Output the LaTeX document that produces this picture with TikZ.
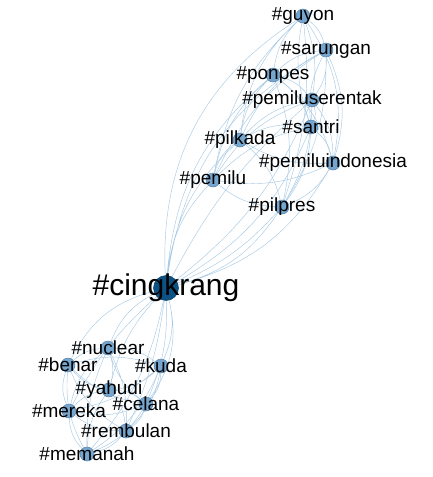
\documentclass[tikz,border=0pt]{standalone}
\usepackage{fontspec}
\setmainfont{Liberation Sans}
\usetikzlibrary{backgrounds}
\definecolor{tagfill}{RGB}{118,166,206}
\definecolor{tagline}{RGB}{84,128,168}
\definecolor{hubfill}{RGB}{12,82,132}
\definecolor{edgeblue}{RGB}{168,202,228}
\tikzset{
  tag/.style={circle,draw=tagline,fill=tagfill,minimum size=14pt,inner sep=0pt,line width=.5pt},
  hubtag/.style={circle,draw=hubfill!75!black,fill=hubfill,minimum size=25pt,inner sep=0pt,line width=.5pt},
  lb/.style={font=\fontsize{19}{19}\selectfont,inner sep=0pt},
  lbh/.style={font=\fontsize{30}{30}\selectfont,inner sep=0pt},
  lnk/.style={draw=edgeblue,line width=.45pt},
  % upper group: the election tags, lower group: the loose ones
}

\begin{document}
\begin{tikzpicture}[x=1pt,y=-1pt]
\useasboundingbox (0,0) rectangle (433,477);
\node[hubtag] (ck) at (166,288) {};
% upper group
\node[tag] (gu) at (303,16) {};
\node[tag] (sa) at (326,50) {};
\node[tag] (po) at (273,75) {};
\node[tag] (ps) at (312,100) {};
\node[tag] (st) at (311,127) {};
\node[tag] (pk) at (240,140) {};
\node[tag] (pi) at (333,163) {};
\node[tag] (pm) at (213,180) {};
\node[tag] (pp) at (282,207) {};
% lower group
\node[tag] (nu) at (108,348) {};
\node[tag] (be) at (68,365) {};
\node[tag] (ku) at (161,366) {};
\node[tag] (ya) at (109,390) {};
\node[tag] (ce) at (146,404) {};
\node[tag] (me) at (69,411) {};
\node[tag] (re) at (126,431) {};
\node[tag] (mn) at (87,454) {};

\begin{scope}[on background layer]
  \draw[lnk] (ck) to[bend left=30] (gu) (ck) to[bend left=26] (sa) (ck) to[bend left=22] (po)
    (ck) to[bend right=14] (ps) (ck) to[bend right=18] (st) (ck) to[bend left=20] (pk)
    (ck) to[bend right=22] (pi) (ck) to[bend left=18] (pm) (ck) to[bend right=20] (pp)
    (ck) to[bend right=12] (pp) (ck) to[bend left=10] (ps);
  \draw[lnk] (gu) to[bend left=18] (sa) (gu) to[bend right=18] (po) (gu) to[bend left=14] (ps)
    (gu) to[bend right=14] (st) (gu) to[bend right=20] (pk) (gu) to[bend left=22] (pi)
    (gu) to[bend right=18] (pm) (gu) to[bend left=12] (pp);
  \draw[lnk] (sa) to[bend right=18] (po) (sa) to[bend left=18] (ps) (sa) to[bend right=16] (st)
    (sa) to[bend right=18] (pk) (sa) to[bend left=20] (pi) (sa) to[bend right=16] (pm)
    (sa) to[bend left=16] (pp);
  \draw[lnk] (po) to[bend left=18] (ps) (po) to[bend left=18] (st) (po) to[bend right=18] (pk)
    (po) to[bend left=18] (pi) (po) to[bend right=18] (pm) (po) to[bend left=16] (pp);
  \draw[lnk] (ps) to[bend left=20] (st) (ps) to[bend right=18] (pk) (ps) to[bend left=18] (pi)
    (ps) to[bend right=18] (pm) (ps) to[bend left=14] (pp);
  \draw[lnk] (st) to[bend right=18] (pk) (st) to[bend left=18] (pi) (st) to[bend right=16] (pm)
    (st) to[bend left=16] (pp) (pk) to[bend right=16] (pi) (pk) to[bend right=20] (pm)
    (pk) to[bend left=18] (pp) (pi) to[bend left=16] (pm) (pi) to[bend left=18] (pp)
    (pm) to[bend right=18] (pp);
  \draw[lnk] (ck) to[bend right=20] (nu) (ck) to[bend right=24] (be) (ck) to[bend left=18] (ku)
    (ck) to[bend right=14] (ya) (ck) to[bend left=12] (ce) (ck) to[bend right=10] (me)
    (ck) to[bend left=8] (re) (ck) to[bend left=14] (mn) (ck) to[bend left=24] (ce);
  \draw[lnk] (nu) to[bend right=18] (be) (nu) to[bend left=18] (ku) (nu) to[bend left=16] (ya)
    (nu) to[bend right=16] (ce) (nu) to[bend right=18] (me) (nu) to[bend left=14] (re)
    (nu) to[bend right=12] (mn);
  \draw[lnk] (be) to[bend left=16] (ku) (be) to[bend right=18] (ya) (be) to[bend right=20] (me)
    (be) to[bend right=16] (ce) (be) to[bend right=18] (re) (be) to[bend right=16] (mn);
  \draw[lnk] (ku) to[bend left=18] (ya) (ku) to[bend left=20] (ce) (ku) to[bend left=14] (me)
    (ku) to[bend left=18] (re) (ku) to[bend left=16] (mn);
  \draw[lnk] (ya) to[bend left=18] (ce) (ya) to[bend right=18] (me) (ya) to[bend left=16] (re)
    (ya) to[bend right=16] (mn) (ce) to[bend left=16] (me) (ce) to[bend left=18] (re)
    (ce) to[bend left=18] (mn) (me) to[bend right=18] (re) (me) to[bend right=20] (mn)
    (re) to[bend left=18] (mn);
\end{scope}

\node[lbh] at (ck) {\#cingkrang};
\node[lb] at (gu) {\#guyon};
\node[lb] at (sa) {\#sarungan};
\node[lb] at (po) {\#ponpes};
\node[lb] at (ps) {\#pemiluserentak};
\node[lb] at (st) {\#santri};
\node[lb] at (pk) {\#pilkada};
\node[lb] at (pi) {\#pemiluindonesia};
\node[lb] at (pm) {\#pemilu};
\node[lb] at (pp) {\#pilpres};
\node[lb] at (nu) {\#nuclear};
\node[lb] at (be) {\#benar};
\node[lb] at (ku) {\#kuda};
\node[lb] at (ya) {\#yahudi};
\node[lb] at (ce) {\#celana};
\node[lb] at (me) {\#mereka};
\node[lb] at (re) {\#rembulan};
\node[lb] at (mn) {\#memanah};
\end{tikzpicture}
\end{document}
